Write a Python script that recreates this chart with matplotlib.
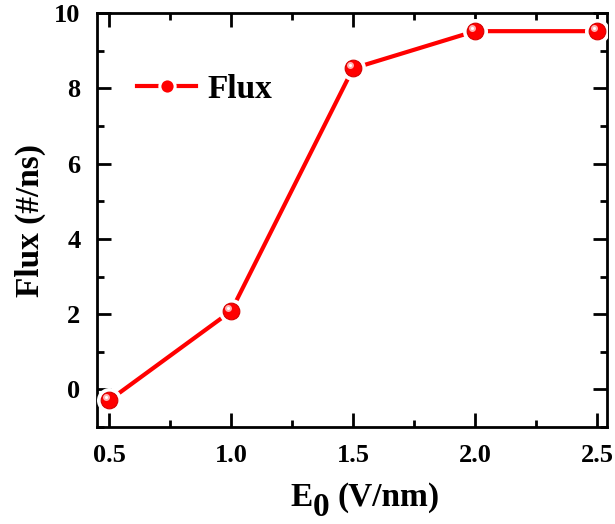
import matplotlib
matplotlib.use("Agg")
import matplotlib.pyplot as plt
from matplotlib import transforms
from matplotlib.lines import Line2D

# data
e_field = [0.5, 1.0, 1.5, 2.0, 2.5]
flux = [-0.29, 2.08, 8.53, 9.52, 9.52]
x_ticks = [0.5, 1.0, 1.5, 2.0, 2.5]
y_ticks = [0, 2, 4, 6, 8, 10]

plt.rcParams['font.family'] = ['Liberation Serif', 'DejaVu Serif']
plt.rcParams['font.weight'] = 'bold'

fig = plt.figure(figsize=(6.15, 5.24), dpi=100)
ax = fig.add_axes([0.158, 0.185, 0.829, 0.790])

red = '#ff0000'
ax.plot(e_field, flux, color=red, lw=3, zorder=2)
ax.plot(e_field, flux, ls='none', marker='o', ms=15, mfc='white', mec='white', mew=3, zorder=3)
ax.plot(e_field, flux, ls='none', marker='o', ms=12, mfc=red, mec='#d40000', mew=0.8, zorder=4)
hl = transforms.offset_copy(ax.transData, fig=fig, x=-2.2, y=2.2, units='points')
ax.plot(e_field, flux, ls='none', marker='o', ms=5, mfc='#ffb0b0', mec='none', transform=hl, zorder=5)
ax.plot(e_field, flux, ls='none', marker='o', ms=2.2, mfc='white', mec='none', transform=hl, zorder=6)

ax.set_xlim(0.451, 2.541)
ax.set_ylim(-1.0, 10.0)
ax.set_xticks(x_ticks)
ax.set_xticklabels([f"{v:.1f}" for v in x_ticks])
ax.set_yticks(y_ticks)
ax.set_yticklabels([str(v) for v in y_ticks])
ax.set_xticks([0.75, 1.25, 1.75, 2.25], minor=True)
ax.set_yticks([-1, 1, 3, 5, 7, 9], minor=True)

ax.tick_params(which='both', direction='in', top=True, right=True, width=2, labelsize=19)
ax.tick_params(which='major', length=10)
ax.tick_params(which='minor', length=5)
ax.tick_params(axis='x', which='major', pad=12)
ax.tick_params(axis='y', which='major', pad=12)
for s in ax.spines.values():
    s.set_linewidth(2)

# x label: E with full-size lowered subscript 0
lab = dict(fontsize=24, fontweight='bold')
tE = fig.text(290 / 615, (524 - 506) / 524, 'E', ha='left', va='baseline', **lab)
t0 = ax.annotate('0', xy=(1, 0), xycoords=tE, xytext=(0.3, -7.5), textcoords='offset points',
                 ha='left', va='bottom', annotation_clip=False, **lab)
ax.annotate('(V/nm)', xy=(1, 0), xycoords=t0, xytext=(6, 7.5), textcoords='offset points',
            ha='left', va='bottom', annotation_clip=False, **lab)

ax.set_ylabel('Flux (#/ns)', fontsize=24, fontweight='bold', labelpad=6)

handle = Line2D([], [], color=red, lw=3, marker='o', ms=11, mfc=red, mec='white', mew=2.2)
leg = ax.legend([handle], ['Flux'], loc='upper left', bbox_to_anchor=(0.02, 0.925),
                frameon=False, handlelength=1.75, handletextpad=0.35,
                prop={'weight': 'bold', 'size': 24})

fig.savefig('out.png', dpi=100)
